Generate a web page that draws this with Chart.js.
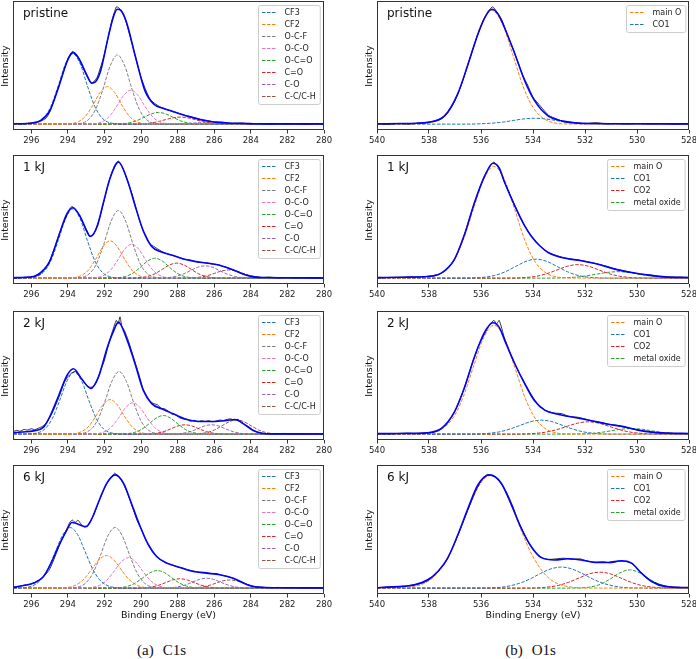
<!DOCTYPE html>
<html>
<head>
<meta charset="utf-8">
<script src="https://cdn.jsdelivr.net/npm/chart.js@4.4.0/dist/chart.umd.min.js"></script>
<style>
  body { margin: 0; width: 696px; height: 659px; position: relative; overflow: hidden; background: #fff;
         font-family: "DejaVu Sans", sans-serif; color: #111; }
  canvas { position: absolute; }
  .tag { position: absolute; font-size: 12px; line-height: 14px; white-space: nowrap; }
  .ylab { position: absolute; width: 60px; height: 12px; line-height: 12px; font-size: 9.5px;
          text-align: center; transform: rotate(-90deg); }
  .xlab { position: absolute; width: 200px; text-align: center; font-size: 9.5px; line-height: 12px; }
  .cap { position: absolute; width: 120px; text-align: center; font-family: "Liberation Serif", serif;
         font-size: 15px; line-height: 18px; }
  .cap span { margin-right: 9px; }
</style>
</head>
<body>
<script>
// Axis ticks and series names
const c1sTicks = [296, 294, 292, 290, 288, 286, 284, 282, 280];
const o1sTicks = [540, 538, 536, 534, 532, 530, 528];
const c1sLabels = ['CF3', 'CF2', 'O-C-F', 'O-C-O', 'O-C=O', 'C=O', 'C-O', 'C-C/C-H'];
const c1sColors = ['#1f77b4', '#ff7f0e', '#7f7f7f', '#e377c2', '#2ca02c', '#d62728', '#9467bd', '#8c564b'];
const o1sLabels = ['main O', 'CO1', 'CO2', 'metal oxide'];
const o1sColors = ['#ff7f0e', '#1f77b4', '#d62728', '#2ca02c'];

// ---------- C1s pristine ----------
const c1sPristineFit = [[297,0.3],[296,0.8],[295.5,3],[295,11],[294.5,32],[294,55],[293.73,61],[293.4,56],[293,43],[292.7,35],[292.5,36],[292.2,46],[291.8,74],[291.5,92],[291.3,98],[291.1,97],[290.8,87],[290.3,57],[289.8,29],[289.3,17],[288.8,13.5],[288.3,11],[287.8,8.5],[287.3,6.2],[286.8,4],[286.3,2.5],[285.8,1.5],[285.3,1],[284.8,0.7],[284,0.4],[283,0.2],[280,0.2]];
const c1sPristineRaw = [[297,0.5],[296.5,0.2],[296,1.2],[295.5,2.5],[295.2,5],[295,10],[294.5,32],[294,56],[293.75,62],[293.5,59],[293,42],[292.7,35],[292.4,40],[292,60],[291.6,88],[291.35,100],[291.2,99],[290.9,91],[290.5,69],[290,40],[289.5,21],[289,15],[288.5,12],[288,9.5],[287.5,7],[287,5],[286.5,3.5],[286,2],[285.5,1.6],[285,0.6],[284.5,0.9],[284,0.2],[283.5,0.6],[283,0],[282.5,0.5],[282,0.1],[281.5,0.4],[281,-0.2],[280.5,0.4],[280,0.2]];
const c1sPristinePeaks = [
  [[297,0],[296.73,0],[295.93,0.6],[295.33,5.2],[294.93,15.1],[294.53,32.5],[294.13,51.5],[293.73,60],[293.33,51.5],[292.93,32.5],[292.53,15.1],[292.13,5.2],[291.53,0.6],[290.73,0],[280,0]],
  [[297,0],[294.84,0],[294.04,0.2],[293.44,2],[293.04,6.7],[292.64,16],[292.24,26.9],[291.84,32],[291.44,26.9],[291.04,16],[290.64,6.7],[290.24,2],[289.64,0.2],[288.84,0],[280,0]],
  [[297,0],[294.29,0],[293.49,0.3],[292.89,3.7],[292.49,12.4],[292.09,29.5],[291.69,49.6],[291.29,59],[290.89,49.6],[290.49,29.5],[290.09,12.4],[289.69,3.7],[289.09,0.3],[288.29,0],[280,0]],
  [[297,0],[293.56,0],[292.76,0.1],[292.16,1.8],[291.76,6.1],[291.36,14.5],[290.96,24.4],[290.56,29],[290.16,24.4],[289.76,14.5],[289.36,6.1],[288.96,1.8],[288.36,0.1],[287.56,0],[280,0]],
  [[297,0],[292.05,0],[291.25,0.2],[290.65,1.1],[290.25,2.9],[289.85,5.8],[289.45,8.7],[289.05,10],[288.65,8.7],[288.25,5.8],[287.85,2.9],[287.45,1.1],[286.85,0.2],[286.05,0],[280,0]],
  [[297,0],[290.85,0],[290.05,0.2],[289.45,1],[289.05,2.2],[288.65,3.9],[288.25,5.4],[287.85,6],[287.45,5.4],[287.05,3.9],[286.65,2.2],[286.25,1],[285.65,0.2],[284.85,0],[280,0]],
  [[297,0],[289.5,0],[288.7,0.04],[288.1,0.2],[287.7,0.4],[287.3,0.8],[286.9,1.1],[286.5,1.2],[286.1,1.1],[285.7,0.8],[285.3,0.4],[284.9,0.2],[284.3,0.04],[283.5,0],[280,0]],
  [[297,0],[288,0],[287.2,0.02],[286.6,0.1],[286.2,0.2],[285.8,0.4],[285.4,0.5],[285,0.6],[284.6,0.5],[284.2,0.4],[283.8,0.2],[283.4,0.1],[282.8,0.02],[282,0],[280,0]]
];

// ---------- C1s 1 kJ ----------
const c1s1kFit = [[297,0.3],[296.5,0.6],[295.87,1.4],[295.33,7],[295,14],[294.5,36],[294.05,55],[293.73,60],[293.33,52.5],[293,41],[292.78,35.5],[292.4,44],[292.05,65],[291.7,85],[291.24,99],[290.78,85],[290.33,62],[289.87,40],[289.42,27],[288.96,22.7],[288.24,19.3],[287.5,15.6],[286.8,13.6],[286.05,12],[285.5,10],[284.96,7],[284.4,3.4],[283.87,1.1],[283.1,0.5],[282,0.3],[280,0.2]];
const c1s1kRaw = [[297,0.2],[296.5,0.5],[296,0.9],[295.5,3.5],[295.2,9],[295,14.5],[294.7,27],[294.4,41],[294.1,52],[293.8,61],[293.6,59],[293.3,52],[293,42],[292.8,36],[292.6,37],[292.4,45],[292.2,55],[292,67],[291.8,80],[291.6,90],[291.4,96],[291.25,100],[291.1,97],[290.9,90],[290.7,81],[290.5,72],[290.3,61],[290.1,50],[289.9,41],[289.7,35],[289.5,29],[289.3,27],[289.1,25],[288.9,23],[288.7,21.5],[288.5,20.5],[288.2,19],[287.9,17.5],[287.6,16],[287.3,15.5],[287,14],[286.7,13.5],[286.4,13],[286.1,12],[285.8,11.5],[285.5,10],[285.2,8.6],[284.9,6.8],[284.6,4.6],[284.3,3],[284,1.9],[283.7,1.2],[283.4,0.5],[283,0.8],[282.5,0.3],[282,0.5],[281.5,0.2],[281,0.4],[280.5,0.1],[280,0.3]];
const c1s1kPeaks = [
  [[297,0],[296.73,0],[295.93,0.6],[295.33,5.1],[294.93,14.8],[294.53,31.9],[294.13,50.6],[293.73,59],[293.33,50.6],[292.93,31.9],[292.53,14.8],[292.13,5.1],[291.53,0.6],[290.73,0],[280,0]],
  [[297,0],[294.69,0],[293.89,0.2],[293.29,2],[292.89,6.7],[292.49,15.9],[292.09,26.7],[291.69,31.8],[291.29,26.7],[290.89,15.9],[290.49,6.7],[290.09,2],[289.49,0.2],[288.69,0],[280,0]],
  [[297,0],[294.24,0],[293.44,0.3],[292.84,3.6],[292.44,12.1],[292.04,28.9],[291.64,48.5],[291.24,57.7],[290.84,48.5],[290.44,28.9],[290.04,12.1],[289.64,3.6],[289.04,0.3],[288.24,0],[280,0]],
  [[297,0],[293.51,0],[292.71,0.1],[292.11,1.8],[291.71,6.1],[291.31,14.5],[290.91,24.4],[290.51,29],[290.11,24.4],[289.71,14.5],[289.31,6.1],[288.91,1.8],[288.31,0.1],[287.51,0],[280,0]],
  [[297,0],[292.24,0],[291.44,0.2],[290.84,1.5],[290.44,4.3],[290.04,9.2],[289.64,14.6],[289.24,17],[288.84,14.6],[288.44,9.2],[288.04,4.3],[287.64,1.5],[287.04,0.2],[286.24,0],[280,0]],
  [[297,0],[291.05,0],[290.25,0.2],[289.65,1.4],[289.25,3.7],[288.85,7.4],[288.45,11.2],[288.05,12.8],[287.65,11.2],[287.25,7.4],[286.85,3.7],[286.45,1.4],[285.85,0.2],[285.05,0],[280,0]],
  [[297,0],[289.5,0],[288.7,0.3],[288.1,1.5],[287.7,3.5],[287.3,6.4],[286.9,9.3],[286.5,10.5],[286.1,9.3],[285.7,6.4],[285.3,3.5],[284.9,1.5],[284.3,0.3],[283.5,0],[280,0]],
  [[297,0],[288.2,0],[287.4,0.1],[286.8,0.8],[286.4,2],[286,4],[285.6,6.1],[285.2,7],[284.8,6.1],[284.4,4],[284,2],[283.6,0.8],[283,0.1],[282.2,0],[280,0]]
];

// ---------- C1s 2 kJ ----------
const c1s2kFit = [[297,1.1],[296.5,1.8],[295.87,2.8],[295.33,6],[295,14.5],[294.5,33],[294.05,50],[293.7,55.7],[293.24,47],[292.75,39],[292.33,48.6],[291.87,72.7],[291.5,88],[291.24,95.5],[290.78,81],[290.33,60],[289.87,37],[289.42,26],[288.87,21.6],[288.24,17.3],[287.5,12.5],[286.78,10.8],[286.05,10.8],[285.33,11.6],[284.87,12.5],[284.4,8.8],[283.87,3.1],[283.33,0.6],[282.5,0.2],[280,0.1]];
const c1s2kRaw = [[297,2],[296.8,3.2],[296.6,2.5],[296.4,4],[296.2,3.5],[296,4.6],[295.8,3.8],[295.6,5.2],[295.4,6.5],[295.2,9],[295,14],[294.8,20],[294.5,31],[294.2,44],[294,49],[293.8,52],[293.6,53.5],[293.4,50],[293.2,46],[293,42],[292.8,40],[292.6,40.5],[292.4,46],[292.2,55],[292,63],[291.8,75],[291.6,86],[291.45,93],[291.35,97],[291.25,94],[291.15,100],[291.05,92],[290.9,88],[290.7,80],[290.5,70],[290.3,60],[290.1,50],[289.9,39],[289.7,33],[289.5,28],[289.3,26],[289.1,25],[288.9,22],[288.7,21.5],[288.5,19.5],[288.3,17],[288.1,16.5],[287.9,14],[287.7,13],[287.5,12.8],[287.3,11],[287.1,11.8],[286.9,10.5],[286.7,11.5],[286.5,10.8],[286.3,11.5],[286.1,10.5],[285.9,11.2],[285.7,12],[285.5,11.6],[285.3,12.6],[285.1,13],[284.9,12],[284.7,12.6],[284.5,10],[284.3,8],[284.1,6.2],[283.9,3.8],[283.7,2.2],[283.5,1.4],[283.3,0.6],[283,0.5],[282.6,0.3],[282.2,0.6],[281.8,0.2],[281.4,0.4],[281,0.1],[280.5,0.3],[280,0.2]];
const c1s2kPeaks = [
  [[297,0],[296.65,0],[295.85,0.5],[295.25,4.5],[294.85,13.3],[294.45,28.6],[294.05,45.3],[293.65,52.8],[293.25,45.3],[292.85,28.6],[292.45,13.3],[292.05,4.5],[291.45,0.5],[290.65,0],[280,0]],
  [[297,0],[294.69,0],[293.89,0.1],[293.29,1.9],[292.89,6.2],[292.49,14.8],[292.09,24.8],[291.69,29.5],[291.29,24.8],[290.89,14.8],[290.49,6.2],[290.09,1.9],[289.49,0.1],[288.69,0],[280,0]],
  [[297,0],[294.2,0],[293.4,0.3],[292.8,3.4],[292.4,11.2],[292,26.7],[291.6,44.9],[291.2,53.4],[290.8,44.9],[290.4,26.7],[290,11.2],[289.6,3.4],[289,0.3],[288.2,0],[280,0]],
  [[297,0],[293.45,0],[292.65,0.1],[292.05,1.7],[291.65,5.6],[291.25,13.4],[290.85,22.5],[290.45,26.7],[290.05,22.5],[289.65,13.4],[289.25,5.6],[288.85,1.7],[288.25,0.1],[287.45,0],[280,0]],
  [[297,0],[291.78,0],[290.98,0.2],[290.38,1.4],[289.98,4],[289.58,8.6],[289.18,13.6],[288.78,15.9],[288.38,13.6],[287.98,8.6],[287.58,4],[287.18,1.4],[286.58,0.2],[285.78,0],[280,0]],
  [[297,0],[290.6,0],[289.8,0.1],[289.2,0.7],[288.8,2],[288.4,4.3],[288,6.9],[287.6,8],[287.2,6.9],[286.8,4.3],[286.4,2],[286,0.7],[285.4,0.1],[284.6,0],[280,0]],
  [[297,0],[289.15,0],[288.35,0.1],[287.75,0.7],[287.35,2],[286.95,4.3],[286.55,6.9],[286.15,8],[285.75,6.9],[285.35,4.3],[284.95,2],[284.55,0.7],[283.95,0.1],[283.15,0],[280,0]],
  [[297,0],[287.78,0],[286.98,0.2],[286.38,1.4],[285.98,3.6],[285.58,7.1],[285.18,10.6],[284.78,12.2],[284.38,10.6],[283.98,7.1],[283.58,3.6],[283.18,1.4],[282.58,0.2],[281.78,0],[280,0]]
];

// ---------- C1s 6 kJ ----------
const c1s6kFit = [[297,0.6],[296.42,2.3],[295.87,4.3],[295.33,10],[294.96,20],[294.5,36],[294.05,49.7],[293.78,56],[293.5,55],[293.2,53],[293,52.5],[292.8,56],[292.6,62.5],[292.24,76.7],[291.87,89.5],[291.42,96.6],[290.96,89.5],[290.5,71],[290.05,52.6],[289.6,37],[289.15,27],[288.6,21.3],[287.87,17.6],[287.15,14.2],[286.42,12.8],[285.69,11.4],[284.96,8.5],[284.4,4.3],[283.87,1.4],[283.2,0.6],[282,0.3],[280,0.2]];
const c1s6kRaw = [[297,0.4],[296.7,1.2],[296.4,2.5],[296.1,3.1],[295.8,4.8],[295.5,7.5],[295.2,12],[295,16],[294.7,27],[294.4,39],[294.1,49],[293.9,56],[293.75,58],[293.6,56],[293.45,58],[293.3,55],[293.1,52],[292.95,53],[292.8,56],[292.6,62],[292.4,70],[292.2,78],[292,85],[291.8,91],[291.6,95],[291.45,98],[291.35,97],[291.2,95],[291,90],[290.8,83],[290.6,75],[290.4,66],[290.2,57],[290,51],[289.8,43],[289.6,37],[289.4,32],[289.2,28],[289,25],[288.8,23],[288.6,21.5],[288.3,20],[288,18],[287.7,17],[287.4,15.5],[287.1,14.5],[286.8,13.5],[286.5,13.5],[286.2,12.5],[285.9,12.5],[285.6,11],[285.3,10],[285,8.6],[284.7,6.5],[284.4,4.6],[284.1,2.4],[283.8,1.2],[283.5,0.8],[283,0.4],[282.5,0.6],[282,0.2],[281.5,0.4],[281,0.1],[280.5,0.3],[280,0.2]];
const c1s6kPeaks = [
  [[297,0],[296.87,0],[296.07,1.2],[295.47,7.2],[295.07,17.1],[294.67,31.6],[294.27,45.7],[293.87,51.7],[293.47,45.7],[293.07,31.6],[292.67,17.1],[292.27,7.2],[291.67,1.2],[290.87,0],[280,0]],
  [[297,0],[294.9,0],[294.1,0.4],[293.5,3.1],[293.1,8.1],[292.7,16.1],[292.3,24.2],[291.9,27.8],[291.5,24.2],[291.1,16.1],[290.7,8.1],[290.3,3.1],[289.7,0.4],[288.9,0],[280,0]],
  [[297,0],[294.42,0],[293.62,0.5],[293.02,4.4],[292.62,13],[292.22,28],[291.82,44.4],[291.42,51.7],[291.02,44.4],[290.62,28],[290.22,13],[289.82,4.4],[289.22,0.5],[288.42,0],[280,0]],
  [[297,0],[293.69,0],[292.89,0.3],[292.29,2.2],[291.89,6.5],[291.49,14.1],[291.09,22.3],[290.69,26],[290.29,22.3],[289.89,14.1],[289.49,6.5],[289.09,2.2],[288.49,0.3],[287.69,0],[280,0]],
  [[297,0],[292.11,0],[291.31,0.2],[290.71,1.7],[290.31,4.4],[289.91,8.7],[289.51,13.1],[289.11,15],[288.71,13.1],[288.31,8.7],[287.91,4.4],[287.51,1.7],[286.91,0.2],[286.11,0],[280,0]],
  [[297,0],[290.87,0],[290.07,0.1],[289.47,0.9],[289.07,2.3],[288.67,4.6],[288.27,7],[287.87,8],[287.47,7],[287.07,4.6],[286.67,2.3],[286.27,0.9],[285.67,0.1],[284.87,0],[280,0]],
  [[297,0],[289.42,0],[288.62,0.1],[288.02,1],[287.62,2.5],[287.22,4.9],[286.82,7.4],[286.42,8.5],[286.02,7.4],[285.62,4.9],[285.22,2.5],[284.82,1],[284.22,0.1],[283.42,0],[280,0]],
  [[297,0],[288.15,0],[287.35,0.1],[286.75,0.8],[286.35,2],[285.95,4],[285.55,6.1],[285.15,7],[284.75,6.1],[284.35,4],[283.95,2],[283.55,0.8],[282.95,0.1],[282.15,0],[280,0]]
];

// ---------- O1s pristine ----------
const o1sPristineFit = [[540,0.3],[539,0.5],[538.5,0.8],[538.05,1.5],[537.4,7],[536.9,25.6],[536.5,51],[536.12,76.7],[535.8,93],[535.58,98],[535.35,94],[535.09,82],[534.7,60],[534.32,37],[533.94,20],[533.42,7],[532.9,2.8],[532.4,1.1],[531.5,0.5],[530,0.3],[528,0.2]];
const o1sPristineRaw = [[540,0.2],[539.6,-0.3],[539.2,0.4],[538.8,0.1],[538.4,0.8],[538,1.6],[537.6,3.8],[537.3,9],[537,20],[536.7,37],[536.4,58],[536.1,78],[535.9,89],[535.7,97],[535.55,100],[535.4,96],[535.2,89],[535,77],[534.8,66],[534.6,54],[534.4,42],[534.2,33],[534,23],[533.7,15],[533.4,7.5],[533.1,4.5],[532.8,2],[532.5,1.5],[532,0.4],[531.6,1.2],[531.2,0.3],[530.8,0.6],[530.4,0.1],[530,0.5],[529.5,0.2],[529,0.5],[528.5,0.1],[528,0.3]];
const o1sPristinePeaks = [
  [[540,0],[538.58,0.1],[537.78,2.3],[537.18,13.6],[536.78,32.1],[536.38,59.4],[535.98,85.7],[535.58,97],[535.18,85.7],[534.78,59.4],[534.38,32.1],[533.98,13.6],[533.38,2.3],[532.58,0.1],[528,0]],
  [[540,0],[536.94,0],[536.14,0.2],[535.54,0.9],[535.14,1.8],[534.74,3.2],[534.34,4.5],[533.94,5],[533.54,4.5],[533.14,3.2],[532.74,1.8],[532.34,0.9],[531.74,0.2],[530.94,0],[528,0]]
];

// ---------- O1s 1 kJ ----------
const o1s1kFit = [[540,0.4],[539,0.8],[538.05,1.4],[537.53,4.3],[537.02,16],[536.63,37.5],[536.25,64.5],[535.86,87],[535.54,98],[535.3,94],[535.09,81.5],[534.7,61.6],[534.32,44.6],[534.07,36],[533.74,27.6],[533.42,21.9],[532.9,17.6],[532.14,14.8],[531.5,11.9],[530.85,7.7],[530.2,4.8],[529.57,2.6],[528.93,1.1],[528,0.5]];
const o1s1kRaw = [[540,0.1],[539.5,0.6],[539,0.8],[538.5,1],[538,1.6],[537.6,3.5],[537.3,7.5],[537,17],[536.7,33],[536.4,54],[536.1,74],[535.85,88],[535.6,97],[535.5,99],[535.3,93],[535.1,82],[534.9,72],[534.7,62],[534.5,52],[534.3,44],[534.1,37],[533.8,29],[533.5,23],[533.2,20],[532.9,18],[532.6,16.5],[532.3,15.5],[532,14.5],[531.7,13],[531.4,11.5],[531.1,9.5],[530.8,7.5],[530.5,6.2],[530.2,4.8],[529.9,3.5],[529.5,2.8],[529.2,1.5],[528.8,1],[528.4,0.8],[528,0.6]];
const o1s1kPeaks = [
  [[540,0],[538.5,0.1],[537.7,2.3],[537.1,13.3],[536.7,31.5],[536.3,58.3],[535.9,84.2],[535.5,95.2],[535.1,84.2],[534.7,58.3],[534.3,31.5],[533.9,13.3],[533.3,2.3],[532.5,0.1],[528,0]],
  [[540,0],[536.87,0],[536.07,0.4],[535.47,2.3],[535.07,5.4],[534.67,9.9],[534.27,14.3],[533.87,16.2],[533.47,14.3],[533.07,9.9],[532.67,5.4],[532.27,2.3],[531.67,0.4],[530.87,0],[528,0]],
  [[540,0],[535.27,0],[534.47,0.3],[533.87,1.6],[533.47,3.8],[533.07,7],[532.67,10.2],[532.27,11.5],[531.87,10.2],[531.47,7],[531.07,3.8],[530.67,1.6],[530.07,0.3],[529.27,0],[528,0]],
  [[540,0],[533.73,0],[532.93,0.2],[532.33,0.9],[531.93,2],[531.53,3.5],[531.13,4.9],[530.73,5.5],[530.33,4.9],[529.93,3.5],[529.53,2],[529.13,0.9],[528.53,0.2],[528,0]]
];

// ---------- O1s 2 kJ ----------
const o1s2kFit = [[540,0.4],[539,0.6],[538.05,1.1],[537.53,4.8],[537.02,19],[536.63,40],[536.25,66],[535.86,87],[535.54,95],[535.3,91],[535.09,80],[534.7,60],[534.32,43],[533.94,28.4],[533.55,20.5],[533.04,17],[532.4,14.2],[531.75,11.4],[531.11,8.5],[530.47,6.2],[529.95,3.4],[529.44,1.7],[528.8,0.9],[528,0.5]];
const o1s2kRaw = [[540,0.3],[539.5,0.2],[539,0.8],[538.5,0.6],[538,1.5],[537.6,4],[537.3,9],[537,20],[536.7,36],[536.4,56],[536.1,75],[535.85,86],[535.65,94],[535.5,97],[535.4,94],[535.3,97],[535.1,82],[534.9,70],[534.7,60],[534.5,51],[534.3,43],[534.1,35],[533.8,25],[533.5,20],[533.2,18],[532.9,17.5],[532.6,15],[532.3,14.5],[532,13],[531.7,11],[531.4,10],[531.1,8.5],[530.8,7.5],[530.5,6],[530.2,4.5],[529.9,3.2],[529.6,2.4],[529.2,1],[528.8,0.8],[528.4,0.5],[528,0.4]];
const o1s2kPeaks = [
  [[540,0],[538.5,0.1],[537.7,2.2],[537.1,13],[536.7,30.7],[536.3,56.9],[535.9,82.1],[535.5,92.9],[535.1,82.1],[534.7,56.9],[534.3,30.7],[533.9,13],[533.3,2.2],[532.5,0.1],[528,0]],
  [[540,0],[536.68,0],[535.88,0.4],[535.28,2],[534.88,4.4],[534.48,7.6],[534.08,10.7],[533.68,11.9],[533.28,10.7],[532.88,7.6],[532.48,4.4],[532.08,2],[531.48,0.4],[530.68,0],[528,0]],
  [[540,0],[534.88,0],[534.08,0.4],[533.48,1.8],[533.08,3.9],[532.68,6.7],[532.28,9.4],[531.88,10.5],[531.48,9.4],[531.08,6.7],[530.68,3.9],[530.28,1.8],[529.68,0.4],[528.88,0],[528,0]],
  [[540,0],[533.21,0],[532.41,0.1],[531.81,0.5],[531.41,1.4],[531.01,2.8],[530.61,4.2],[530.21,4.8],[529.81,4.2],[529.41,2.8],[529.01,1.4],[528.61,0.5],[528,0.1]]
];

// ---------- O1s 6 kJ ----------
const o1s6kFit = [[540,0.3],[539.59,0.9],[539,1.5],[538.56,2.8],[538.05,7.1],[537.66,14.2],[537.28,25.6],[536.89,45.5],[536.5,68],[536.12,88],[535.67,96.6],[535.22,89.5],[534.83,71],[534.45,51],[534.07,35.5],[533.68,26],[533.17,24],[532.65,25],[532.14,24],[531.62,22],[531.11,21.9],[530.6,23.3],[530.21,21.3],[529.83,12.8],[529.44,5.7],[528.93,1.4],[528.29,0.6],[528,0.5]];
const o1s6kRaw = [[540,0.3],[539.6,0.9],[539.2,1.2],[538.9,1.8],[538.6,2.8],[538.3,4],[538,7],[537.7,13],[537.4,21],[537.1,34],[536.8,50],[536.5,67],[536.2,83],[535.95,93],[535.75,97],[535.6,96],[535.45,95],[535.25,90],[535,81],[534.8,71],[534.6,59],[534.4,49],[534.2,40],[534,33],[533.8,28],[533.6,25.5],[533.4,24.5],[533.1,25],[532.8,25.5],[532.5,24.5],[532.2,25],[531.9,23],[531.6,22],[531.3,22.5],[531,21.5],[530.7,23],[530.4,22.5],[530.2,21],[530,17],[529.8,12],[529.6,8],[529.4,5.5],[529.1,3],[528.8,1.5],[528.4,0.6],[528,0.5]];
const o1s6kPeaks = [
  [[540,0],[539.43,0.1],[538.63,1.2],[537.83,9.3],[537.23,28],[536.83,48],[536.43,70.6],[536.03,88.9],[535.63,96],[535.23,88.9],[534.83,70.6],[534.43,48],[534.03,28],[533.43,9.3],[532.63,1.2],[531.83,0.1],[528,0]],
  [[540,0],[535.91,0.1],[535.11,1.1],[534.51,4.2],[534.11,7.9],[533.71,12.5],[533.31,16.4],[532.91,18],[532.51,16.4],[532.11,12.5],[531.71,7.9],[531.31,4.2],[530.71,1.1],[529.91,0.1],[528,0]],
  [[540,0],[534.43,0],[533.63,0.5],[533.03,2.3],[532.63,5],[532.23,8.7],[531.83,12.2],[531.43,13.6],[531.03,12.2],[530.63,8.7],[530.23,5],[529.83,2.3],[529.23,0.5],[528.43,0],[528,0]],
  [[540,0],[533.28,0],[532.48,0.05],[531.88,0.7],[531.48,2.7],[531.08,7.1],[530.68,12.8],[530.28,15.6],[529.88,12.8],[529.48,7.1],[529.08,2.7],[528.68,0.7],[528.08,0.05],[528,0]]
];

// Panel list: row tops, tags, which spectrum
const panels = [
  { c1s: true,  top: 0,   tag: 'pristine', fit: c1sPristineFit, raw: c1sPristineRaw, peaks: c1sPristinePeaks },
  { c1s: false, top: 0,   tag: 'pristine', fit: o1sPristineFit, raw: o1sPristineRaw, peaks: o1sPristinePeaks },
  { c1s: true,  top: 154, tag: '1 kJ', fit: c1s1kFit, raw: c1s1kRaw, peaks: c1s1kPeaks },
  { c1s: false, top: 154, tag: '1 kJ', fit: o1s1kFit, raw: o1s1kRaw, peaks: o1s1kPeaks },
  { c1s: true,  top: 310, tag: '2 kJ', fit: c1s2kFit, raw: c1s2kRaw, peaks: c1s2kPeaks },
  { c1s: false, top: 310, tag: '2 kJ', fit: o1s2kFit, raw: o1s2kRaw, peaks: o1s2kPeaks },
  { c1s: true,  top: 464, tag: '6 kJ', fit: c1s6kFit, raw: c1s6kRaw, peaks: c1s6kPeaks },
  { c1s: false, top: 464, tag: '6 kJ', fit: o1s6kFit, raw: o1s6kRaw, peaks: o1s6kPeaks }
];

Chart.defaults.font.family = '"DejaVu Sans", sans-serif';

// box around the plot area (matplotlib spines)
const framePlugin = {
  id: 'frame',
  afterDraw(chart) {
    const { ctx, chartArea: a } = chart;
    ctx.save();
    ctx.strokeStyle = '#333';
    ctx.lineWidth = 1;
    ctx.strokeRect(Math.round(a.left) + 0.5, Math.round(a.top) + 0.5,
      Math.round(a.right - a.left) - 1, Math.round(a.bottom - a.top) - 1);
    ctx.restore();
  },
};

// legend drawn inside the upper right corner, one dash sample per component
const boxLegendPlugin = {
  id: 'boxLegend',
  afterDraw(chart) {
    const { ctx, chartArea: a } = chart;
    const items = chart.data.datasets.filter((d) => d.label);
    ctx.save();
    ctx.font = '8px "DejaVu Sans"';
    const tw = Math.max(...items.map((d) => ctx.measureText(d.label).width));
    const w = 4 + 15 + 7.5 + tw + 4;
    const h = items.length * 12 + 3;
    const x = Math.round(a.right - 4 - w);
    const y = Math.round(a.top + 4);
    ctx.fillStyle = 'rgba(255,255,255,0.85)';
    ctx.strokeStyle = '#cccccc';
    ctx.lineWidth = 1;
    ctx.beginPath();
    if (ctx.roundRect) ctx.roundRect(x + 0.5, y + 0.5, w, h, 2);
    else ctx.rect(x + 0.5, y + 0.5, w, h);
    ctx.fill();
    ctx.stroke();
    items.forEach((d, i) => {
      const cy = y + 7.5 + 12 * i;
      ctx.save();
      ctx.lineWidth = 1.1;
      ctx.strokeStyle = d.borderColor;
      ctx.setLineDash([3.5, 1.5]);
      ctx.beginPath();
      ctx.moveTo(x + 4, cy);
      ctx.lineTo(x + 19, cy);
      ctx.stroke();
      ctx.restore();
      ctx.fillStyle = '#222';
      ctx.textBaseline = 'middle';
      ctx.fillText(d.label, x + 26.5, cy + 0.5);
    });
    ctx.restore();
  },
};

function addText(cls, html, style) {
  const el = document.createElement('div');
  el.className = cls;
  el.innerHTML = html;
  el.style.cssText = style;
  document.body.appendChild(el);
}

panels.forEach((p) => {
  const cv = document.createElement('canvas');
  const left = p.c1s ? 0 : 348;
  const width = p.c1s ? 340 : 356;
  const axisW = p.c1s ? 13 : 29;
  cv.width = width;
  cv.height = 150;
  cv.style.left = left + 'px';
  cv.style.top = p.top + 'px';
  document.body.appendChild(cv);

  const labels = p.c1s ? c1sLabels : o1sLabels;
  const colors = p.c1s ? c1sColors : o1sColors;
  const ticks = p.c1s ? c1sTicks : o1sTicks;

  const datasets = [
    { data: p.fit, borderColor: '#0000ff', borderWidth: 1.6, order: 0, cubicInterpolationMode: 'monotone' },
    { data: p.raw, borderColor: '#000000', borderWidth: 0.8, order: 1, tension: 0.2 },
  ];
  p.peaks.forEach((pts, i) => {
    datasets.push({
      label: labels[i],
      data: pts,
      borderColor: colors[i],
      borderWidth: 1,
      borderDash: [3.5, 1.5],
      order: 2 + i,
      cubicInterpolationMode: 'monotone',
    });
  });

  new Chart(cv, {
    type: 'line',
    data: { datasets: datasets },
    options: {
      responsive: false,
      animation: false,
      devicePixelRatio: 1,
      layout: { padding: { top: 1, right: p.c1s ? 16 : 15, left: 0, bottom: 0 } },
      elements: { point: { radius: 0 } },
      plugins: { legend: { display: false }, tooltip: { enabled: false } },
      scales: {
        x: {
          type: 'linear',
          reverse: true,
          min: p.c1s ? 280 : 528,
          max: p.c1s ? 297 : 540,
          afterBuildTicks: (s) => { s.ticks = ticks.map((v) => ({ value: v })); },
          afterFit: (s) => { s.height = 20; },
          ticks: { color: '#222', font: { size: 8.5 }, padding: 2, maxRotation: 0, autoSkip: false },
          grid: { drawOnChartArea: false, drawTicks: true, tickLength: 3.5, color: '#333' },
          border: { display: false },
        },
        y: {
          min: -5,
          max: 105,
          afterFit: (s) => { s.width = axisW; },
          ticks: { display: false },
          grid: { display: false },
          border: { display: false },
        },
      },
    },
    plugins: [framePlugin, boxLegendPlugin],
  });

  const areaLeft = left + axisW;
  const areaTop = p.top + 1;
  addText('tag', p.tag, `left:${areaLeft + 10}px;top:${areaTop + 5}px`);
  addText('ylab', 'Intensity', `left:${areaLeft - 8 - 30}px;top:${areaTop + 64.5 - 6}px`);
});

addText('xlab', 'Binding Energy (eV)', 'left:68.5px;top:609px');
addText('xlab', 'Binding Energy (eV)', 'left:433px;top:609px');
addText('cap', '<span>(a)</span>C1s', 'left:101.5px;top:641px');
addText('cap', '<span>(b)</span>O1s', 'left:470.5px;top:641px');
</script>
</body>
</html>
